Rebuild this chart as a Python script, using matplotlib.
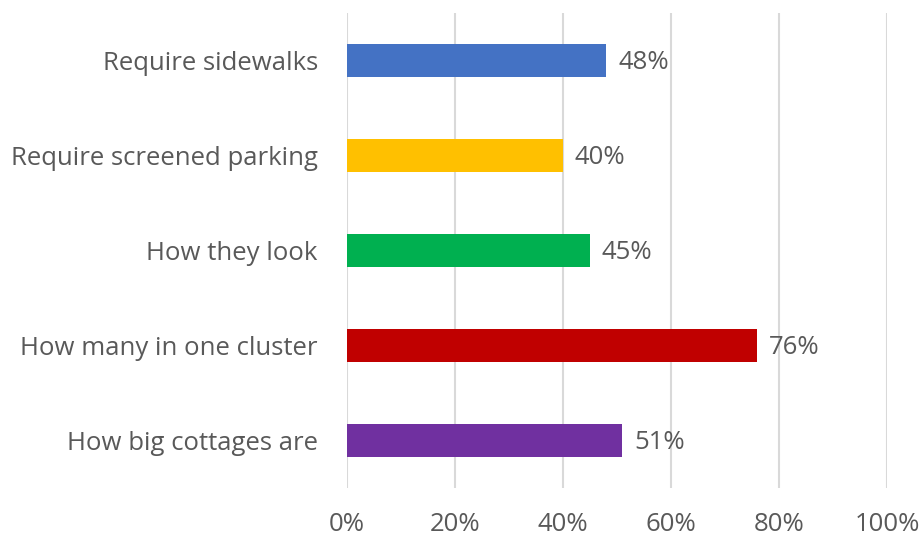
import matplotlib
matplotlib.use("Agg")
import matplotlib.pyplot as plt
from matplotlib.ticker import PercentFormatter

plt.rcParams['font.family'] = ['Open Sans', 'DejaVu Sans']

categories = ["Require sidewalks", "Require screened parking", "How they look",
              "How many in one cluster", "How big cottages are"]
values = [48, 40, 45, 76, 51]
colors = ["#4472C4", "#FFC000", "#00B050", "#C00000", "#7030A0"]

text_color = "#595959"
fs = 18.5

fig = plt.figure(figsize=(9.21, 5.38), dpi=100)
ax = fig.add_axes([347 / 921, 1 - 488 / 538, 540 / 921, 475 / 538])

y = list(range(len(categories)))
ax.barh(y, values, height=0.35, color=colors, zorder=3)
for yi, v in zip(y, values):
    ax.text(v + 2.2, yi + 0.02, f"{v}%", va="center", ha="left",
            fontsize=fs, color=text_color)

ax.set_xlim(0, 100)
ax.set_ylim(len(categories) - 0.5, -0.5)
ax.set_xticks(range(0, 101, 20))
ax.xaxis.set_major_formatter(PercentFormatter(decimals=0))
ax.set_yticks(y)
ax.set_yticklabels(categories)
ax.grid(axis="x", color="#D9D9D9", linewidth=1.5, zorder=0)
for s in ax.spines.values():
    s.set_visible(False)
ax.tick_params(axis="both", length=0, labelsize=fs, labelcolor=text_color)
ax.tick_params(axis="x", pad=17)
ax.tick_params(axis="y", pad=21)

fig.savefig("out.png", dpi=100)
